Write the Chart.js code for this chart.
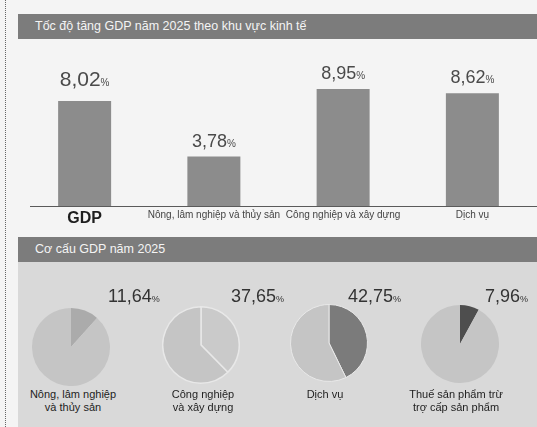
<!DOCTYPE html>
<html>
<head>
<meta charset="utf-8">
<script src="https://cdn.jsdelivr.net/npm/chart.js@4.4.1/dist/chart.umd.min.js"></script>
<style>
  html, body { margin: 0; padding: 0; }
  body {
    width: 537px; height: 427px; position: relative; overflow: hidden;
    background: #f4f4f4; font-family: "Liberation Sans", Arial, sans-serif;
  }
  .rule { position: absolute; left: 5px; top: 0; height: 427px; border-left: 1px dotted #666; }
  .band {
    position: absolute; left: 18px; width: 519px; height: 25px;
    background: #7c7c7c; color: #f4f4f4; font-size: 12.5px; line-height: 25px;
    padding-left: 17px; box-sizing: border-box; white-space: nowrap;
  }
  #band1 { top: 14px; }
  #band2 { top: 237px; }
  #panel { position: absolute; left: 18px; top: 262px; width: 519px; height: 165px; background: #d9d9d9; }
  #barChart { position: absolute; left: 0; top: 40px; }
  .pie { position: absolute; }
  .pct { position: absolute; font-size: 18px; color: #333; white-space: nowrap; line-height: 20px; }
  .pct span { font-size: 9px; }
  .cap { position: absolute; width: 140px; text-align: center; font-size: 11px; line-height: 13px; color: #1e1e1e; }
</style>
</head>
<body>
<div class="rule"></div>
<div class="band" id="band1">Tốc độ tăng GDP năm 2025 theo khu vực kinh tế</div>
<canvas id="barChart" width="537" height="190"></canvas>
<div class="band" id="band2">Cơ cấu GDP năm 2025</div>
<div id="panel"></div>
<div id="pies"></div>

<script>
// Growth rate by economic sector, 2025 (%)
const growthCategories = ['GDP', 'Nông, lâm nghiệp và thủy sản', 'Công nghiệp và xây dựng', 'Dịch vụ'];
const growthValues = [8.02, 3.78, 8.95, 8.62];

// GDP structure, 2025 (% share)
const shareLabels = [
  ['Nông, lâm nghiệp', 'và thủy sản'],
  ['Công nghiệp', 'và xây dựng'],
  ['Dịch vụ'],
  ['Thuế sản phẩm trừ', 'trợ cấp sản phẩm']
];
const shareValues = [11.64, 37.65, 42.75, 7.96];

const fmt = v => v.toFixed(2).replace('.', ',');
const FONT = '"Liberation Sans", Arial, sans-serif';

// value labels above each bar: big number with a small percent sign
const barValueLabels = {
  id: 'barValueLabels',
  afterDatasetsDraw(chart) {
    const ctx = chart.ctx;
    const meta = chart.getDatasetMeta(0);
    const vals = chart.data.datasets[0].data;
    ctx.save();
    ctx.fillStyle = '#4a4a4a';
    ctx.textBaseline = 'alphabetic';
    ctx.textAlign = 'left';
    meta.data.forEach((el, i) => {
      const big = i === 0 ? 21 : 18;
      const gap = i === 0 ? 15 : 10;
      const num = fmt(vals[i]);
      ctx.font = big + 'px ' + FONT;
      const w1 = ctx.measureText(num).width;
      ctx.font = '10px ' + FONT;
      const w2 = ctx.measureText('%').width;
      const x0 = el.x - (w1 + w2) / 2;
      const yb = el.y - gap;
      ctx.font = big + 'px ' + FONT;
      ctx.fillText(num, x0, yb);
      ctx.font = '10px ' + FONT;
      ctx.fillText('%', x0 + w1, yb);
    });
    ctx.restore();
  }
};

// horizontal base line under the bars
const baseLine = {
  id: 'baseLine',
  afterDraw(chart) {
    const ctx = chart.ctx;
    const y = Math.round(chart.chartArea.bottom) + 0.5;
    ctx.save();
    ctx.strokeStyle = '#5a5a5a';
    ctx.lineWidth = 1;
    ctx.beginPath();
    ctx.moveTo(30, y);
    ctx.lineTo(chart.width, y);
    ctx.stroke();
    ctx.restore();
  }
};

new Chart(document.getElementById('barChart'), {
  type: 'bar',
  data: {
    labels: growthCategories,
    datasets: [{
      data: growthValues,
      backgroundColor: '#8c8c8c',
      barPercentage: 0.41,
      categoryPercentage: 1
    }]
  },
  options: {
    responsive: false,
    animation: false,
    events: [],
    layout: { padding: { left: 20, right: 0, top: 9, bottom: 0 } },
    plugins: { legend: { display: false }, tooltip: { enabled: false } },
    scales: {
      y: { display: false, min: 0, max: 12 },
      x: {
        grid: { display: false, drawTicks: false },
        border: { display: false },
        afterFit: axis => { axis.height = 24; },
        ticks: {
          padding: 3,
          maxRotation: 0,
          autoSkip: false,
          color: c => c.index === 0 ? '#1e1e1e' : '#444',
          font: c => c.index === 0
            ? { size: 16, weight: 'bold', family: FONT }
            : { size: 10, family: FONT }
        }
      }
    }
  },
  plugins: [barValueLabels, baseLine]
});

// share pies: one pie per sector, highlighted slice starting at 12 o'clock
const pieCenters = [[71, 347], [201, 345], [329, 343], [460, 344]];
const pieSliceColors = ['#ababab', '#cacaca', '#7b7b7b', '#4e4e4e'];
const pieRestColor = '#c5c5c5';
const pieBorders = [0, 1.5, 1, 0];
const pctLeft = [108, 231, 348, 485];
const capCenters = [73, 203, 325, 456];
const pieSize = 78;
const holder = document.getElementById('pies');

shareValues.forEach((v, i) => {
  const [cx, cy] = pieCenters[i];
  const cv = document.createElement('canvas');
  cv.className = 'pie';
  cv.width = pieSize; cv.height = pieSize;
  cv.style.left = (cx - pieSize / 2) + 'px';
  cv.style.top = (cy - pieSize / 2) + 'px';
  holder.appendChild(cv);

  new Chart(cv, {
    type: 'pie',
    data: {
      labels: [shareLabels[i].join(' '), ''],
      datasets: [{
        data: [v, 100 - v],
        backgroundColor: [pieSliceColors[i], pieRestColor],
        borderColor: '#e8e8e8',
        borderWidth: pieBorders[i],
        hoverOffset: 0
      }]
    },
    options: {
      responsive: false,
      animation: false,
      events: [],
      layout: { padding: 0 },
      plugins: { legend: { display: false }, tooltip: { enabled: false } }
    }
  });

  const pct = document.createElement('div');
  pct.className = 'pct';
  pct.style.left = pctLeft[i] + 'px';
  pct.style.top = '286px';
  pct.innerHTML = fmt(v) + '<span>%</span>';
  holder.appendChild(pct);

  const cap = document.createElement('div');
  cap.className = 'cap';
  cap.style.left = (capCenters[i] - 70) + 'px';
  cap.style.top = '388px';
  cap.innerHTML = shareLabels[i].join('<br>');
  holder.appendChild(cap);
});
</script>
</body>
</html>
